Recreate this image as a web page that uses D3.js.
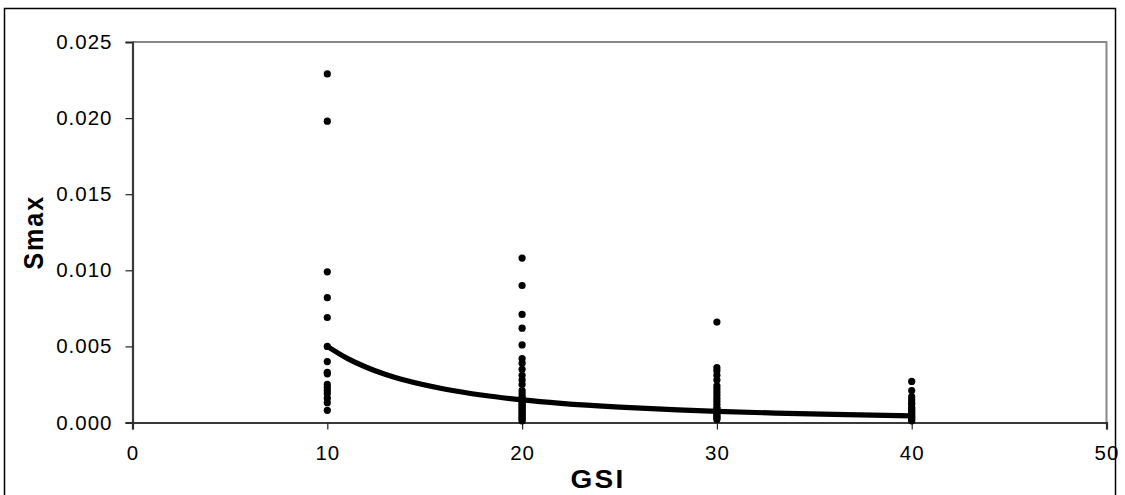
<!DOCTYPE html>
<html>
<head>
<meta charset="utf-8">
<script src="https://cdn.jsdelivr.net/npm/d3@7/dist/d3.min.js"></script>
<style>
  html, body { margin: 0; padding: 0; background: #fff; }
  svg { display: block; }
  text { font-family: "Liberation Sans", Arial, sans-serif; }
</style>
</head>
<body>
<svg id="chart" width="1125" height="495"></svg>
<script>
// Smax observations grouped by GSI
const gsi10 = [0.0229, 0.0198, 0.0099, 0.0082, 0.0069, 0.0050, 0.0040, 0.0033, 0.0032, 0.0025, 0.0023, 0.0021, 0.0019, 0.0016, 0.0013, 0.0008];
const gsi20 = [0.0108, 0.0090, 0.0071, 0.0062, 0.0051, 0.0042, 0.0039, 0.0035, 0.0031, 0.0028, 0.0025, 0.0021, 0.0019, 0.0017, 0.0016, 0.0014,
               0.0013, 0.0012, 0.0011, 0.0010, 0.0009, 0.0008, 0.0007, 0.0006, 0.0005, 0.0004, 0.0003, 0.0002, 0.0001];
const gsi30 = [0.0066, 0.0036, 0.0034, 0.0031, 0.0028, 0.0024, 0.0022, 0.0020, 0.0018, 0.0016, 0.0014, 0.0012, 0.0010,
               0.0009, 0.0008, 0.0007, 0.0006, 0.0005, 0.0004, 0.0003, 0.0002];
const gsi40 = [0.0027, 0.0021, 0.0017, 0.0015, 0.0013, 0.0012, 0.0010, 0.0009, 0.0008, 0.0007, 0.0006, 0.0005, 0.0004, 0.0003, 0.0002, 0.0001];
const groups = [[10, gsi10], [20, gsi20], [30, gsi30], [40, gsi40]];

// Trend line through the data (GSI, Smax)
const trendX = [10, 11, 12, 13, 14, 16, 18, 20, 22, 25, 28, 30, 33, 36, 40];
const trendY = [0.0050, 0.00423, 0.00363, 0.00315, 0.00277, 0.00220, 0.00179, 0.00149, 0.00126, 0.00101, 0.00083, 0.00073, 0.00062, 0.00053, 0.00044];

const xTicks = [0, 10, 20, 30, 40, 50];
const yTicks = [0, 0.005, 0.010, 0.015, 0.020, 0.025];

const svg = d3.select("#chart");
const L = 132.5, R = 1106.5, T = 42, B = 422.5;

const x = d3.scaleLinear().domain([0, 50]).range([L, R]);
const y = d3.scaleLinear().domain([0, 0.025]).range([B, T]);

// outer chart frame
svg.append("rect")
  .attr("x", 4.5).attr("y", 8.5).attr("width", 1111).attr("height", 520)
  .attr("fill", "#fff").attr("stroke", "#000").attr("stroke-width", 1.5);

// plot area border (top/right lighter)
svg.append("path")
  .attr("d", `M${L},${T}H${R}V${B}`)
  .attr("fill", "none").attr("stroke", "#888").attr("stroke-width", 2);

// y axis
const yAxis = svg.append("g").attr("transform", `translate(${L},0)`)
  .call(d3.axisLeft(y).tickValues(yTicks).tickSize(7).tickPadding(13).tickFormat(d3.format(".3f")));
// x axis
const xAxis = svg.append("g").attr("transform", `translate(0,${B})`)
  .call(d3.axisBottom(x).tickValues(xTicks).tickSize(7).tickPadding(16).tickFormat(d3.format("d")));

[yAxis, xAxis].forEach(g => {
  g.select(".domain").attr("stroke", "#3a3a3a").attr("stroke-width", 2.2);
  g.selectAll(".tick line").attr("stroke", "#222").attr("stroke-width", 1.2);
  g.selectAll(".tick text")
    .attr("fill", "#000")
    .style("font-size", "20.5px")
    .style("letter-spacing", "1px");
});

// axis titles
svg.append("text")
  .attr("transform", `translate(43,${(T + B) / 2}) rotate(-90) scale(1,1.12)`)
  .attr("text-anchor", "middle")
  .style("font-size", "25px").style("font-weight", "bold")
  .style("letter-spacing", "2px")
  .text("Smax");

svg.append("text")
  .attr("transform", `translate(598,488) scale(1.12,1)`)
  .attr("text-anchor", "middle")
  .style("font-size", "25px").style("font-weight", "bold")
  .style("letter-spacing", "2px")
  .text("GSI");

// trend line
const line = d3.line().x((d, i) => x(trendX[i])).y(d => y(d)).curve(d3.curveMonotoneX);
svg.append("path")
  .datum(trendY)
  .attr("d", line)
  .attr("fill", "none").attr("stroke", "#000").attr("stroke-width", 5.2)
  .attr("stroke-linecap", "round");

// scatter points
const pts = groups.flatMap(([g, vals]) => vals.map(v => ({ g, v })));
svg.append("g").selectAll("circle")
  .data(pts)
  .join("circle")
  .attr("cx", d => x(d.g))
  .attr("cy", d => y(d.v))
  .attr("r", 3.6)
  .attr("fill", "#000");
</script>
</body>
</html>
